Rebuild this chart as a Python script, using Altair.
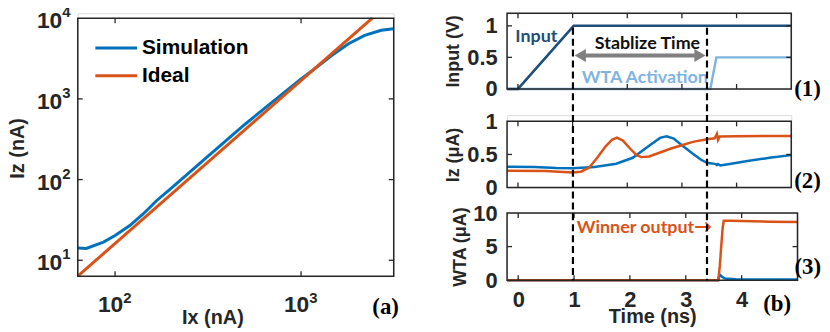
import altair as alt
import pandas as pd

# ---------------- data ----------------
# (a) log-log transfer curve
sim_ix = [63, 70, 86.6, 100, 120, 141.6, 167, 200, 300, 500, 700, 1000, 1170, 1466, 1800, 2200, 2700, 3150]
sim_iz = [14.2, 14.0, 16.8, 20.3, 26.9, 37.5, 54.7, 77.6, 176, 485, 914, 1764, 2310, 3475, 4830, 6120, 7070, 7400]
ideal_ix = [63, 2416]
ideal_iz = [6.357, 10000]
lx_ticks = [100, 1000]
lx_exp = ["2", "3"]
ly_ticks = [10, 100, 1000, 10000]
ly_exp = ["1", "2", "3", "4"]

# (b)(1) input / WTA activation
in_t = [-0.2, 0.0, 1.02, 5.0]
in_v = [0, 0, 1, 1]
act_t = [-0.2, 3.52, 3.63, 5.0]
act_v = [0, 0, 0.5, 0.5]

# (b)(2) Iz of two cells
iz_b_t = [-0.2, 0.3, 0.7, 1.0, 1.4, 1.8, 2.1, 2.4, 2.6, 2.72, 2.85, 3.0, 3.2, 3.35, 3.46, 3.55, 3.62, 3.64, 3.66, 3.7, 3.9, 4.2, 4.6, 5.0]
iz_b_v = [0.315, 0.31, 0.295, 0.29, 0.31, 0.36, 0.45, 0.63, 0.75, 0.775, 0.74, 0.64, 0.51, 0.42, 0.375, 0.365, 0.355, 0.34, 0.355, 0.335, 0.36, 0.40, 0.45, 0.49]
iz_o_t = [-0.2, 0.5, 1.0, 1.15, 1.3, 1.45, 1.6, 1.72, 1.81, 1.92, 2.05, 2.17, 2.26, 2.4, 2.6, 2.8, 3.0, 3.2, 3.46, 3.6, 3.64, 3.66, 3.69, 4.0, 4.5, 5.0]
iz_o_v = [0.255, 0.25, 0.228, 0.24, 0.3, 0.45, 0.62, 0.72, 0.755, 0.71, 0.59, 0.49, 0.46, 0.47, 0.53, 0.59, 0.64, 0.69, 0.73, 0.745, 0.81, 0.72, 0.77, 0.775, 0.78, 0.78]

# (b)(3) WTA outputs
wta_o_t = [-0.2, 3.58, 3.595, 3.61, 3.63, 3.66, 3.68, 3.8, 4.5, 5.0]
wta_o_v = [0, 0, 1.0, 2.2, 4.5, 7.8, 8.85, 8.85, 8.72, 8.65]
wta_b_t = [-0.2, 3.58, 3.61, 3.65, 3.7, 3.9, 5.0]
wta_b_v = [0, 0, 0.8, 0.5, 0.25, 0.12, 0.1]

t_ticks = [0, 1, 2, 3, 4]
dash_t = [0.98, 3.38]

# ---------------- style ----------------
BLUE = "#0072BD"
ORANGE = "#D95319"
NAVY = "#1F4E79"
LIGHT = "#80B4E0"
GRAY = "#808080"
INK = "#262626"
SANS = "Liberation Sans"
SERIF = "Liberation Serif"
ANNO = "Lato"
TL = 5  # inward tick length
ONE = pd.DataFrame({"k": [0]})


def frame(W, H, top=0):
    return alt.Chart(ONE).mark_rect(filled=False, stroke=INK, strokeWidth=1.5).encode(
        x=alt.value(0), x2=alt.value(W), y=alt.value(top), y2=alt.value(H))


# ---------------- (a) ----------------
WL, HL, TOPL = 318.4, 265, 5
lxs = alt.Scale(type="log", domain=[63, 3150], nice=False)
lys = alt.Scale(type="log", domain=[6.357, 11523], nice=False)
ax_lx = alt.Axis(labels=False, ticks=False, domain=False, grid=False, title="Ix (nA)",
                 titleFont=SANS, titleFontSize=20, titleFontWeight="bold", titleColor=INK,
                 titleX=135.7, titleY=42, titleAlign="center", titleBaseline="middle")
ax_ly = alt.Axis(labels=False, ticks=False, domain=False, grid=False, title="Iz (nA)",
                 titleFont=SANS, titleFontSize=20, titleFontWeight="bold", titleColor=INK,
                 titleAngle=270, titleX=-60.6, titleY=135.7, titleAlign="center", titleBaseline="middle")
LX = alt.X("ix:Q", scale=lxs, axis=ax_lx)
LY = alt.Y("iz:Q", scale=lys, axis=ax_ly)

sim_df = pd.DataFrame({"ix": sim_ix, "iz": sim_iz})
ideal_df = pd.DataFrame({"ix": ideal_ix, "iz": ideal_iz})
lxt_df = pd.DataFrame({"ix": lx_ticks, "exp": lx_exp})
lyt_df = pd.DataFrame({"iz": ly_ticks, "exp": ly_exp})

# invisible anchor fixing the top-left corner of the drawing
anchor = alt.Chart(ONE).mark_rule(color="white", strokeWidth=1).encode(
    x=alt.value(-80), x2=alt.value(-78), y=alt.value(-20))

a_sim = alt.Chart(sim_df).mark_line(color=BLUE, strokeWidth=3).encode(x=LX, y=LY)
a_ideal = alt.Chart(ideal_df).mark_line(color=ORANGE, strokeWidth=3).encode(x=LX, y=LY)
a_xt_top = alt.Chart(lxt_df).mark_rule(color=INK, strokeWidth=1.3).encode(x=LX, y=alt.value(TOPL), y2=alt.value(TOPL + TL))
a_xt_bot = alt.Chart(lxt_df).mark_rule(color=INK, strokeWidth=1.3).encode(x=LX, y=alt.value(HL - TL), y2=alt.value(HL))
a_yt_l = alt.Chart(lyt_df[lyt_df.iz < 10000]).mark_rule(color=INK, strokeWidth=1.3).encode(y=LY, x=alt.value(0), x2=alt.value(TL))
a_yt_r = alt.Chart(lyt_df[lyt_df.iz < 10000]).mark_rule(color=INK, strokeWidth=1.3).encode(y=LY, x=alt.value(WL - TL), x2=alt.value(WL))
a_xl_base = alt.Chart(lxt_df).mark_text(text="10", font=SANS, fontSize=23, fontWeight="bold", color=INK,
                                       align="right", baseline="middle", dx=8.3, dy=29).encode(x=LX, y=alt.value(HL))
a_xl_exp = alt.Chart(lxt_df).mark_text(font=SANS, fontSize=15, fontWeight="bold", color=INK,
                                      align="left", baseline="middle", dx=8.3, dy=22).encode(x=LX, y=alt.value(HL), text="exp:N")
a_yl_base = alt.Chart(lyt_df).mark_text(text="10", font=SANS, fontSize=23, fontWeight="bold", color=INK,
                                       align="right", baseline="middle", dx=-15.6, dy=3).encode(y=LY, x=alt.value(0))
a_yl_exp = alt.Chart(lyt_df).mark_text(font=SANS, fontSize=15, fontWeight="bold", color=INK,
                                      align="left", baseline="middle", dx=-15.6, dy=-6).encode(y=LY, x=alt.value(0), text="exp:N")

leg_df = pd.DataFrame({"name": ["Simulation", "Ideal"], "col": [BLUE, ORANGE], "ly": [35, 63]})
a_leg_line = alt.Chart(leg_df).mark_rule(strokeWidth=3).encode(
    x=alt.value(17.7), x2=alt.value(59.7), y=alt.Y("ly:Q", scale=None), color=alt.Color("col:N", scale=None))
a_leg_text = alt.Chart(leg_df).mark_text(font=SANS, fontSize=21, fontWeight="bold", color="black",
                                        align="left", baseline="middle").encode(
    x=alt.value(64.7), y=alt.Y("ly:Q", scale=None), text="name:N")
a_tag = alt.Chart(pd.DataFrame({"s": ["(a)"]})).mark_text(font=SERIF, fontSize=23, fontWeight="bold", color="black",
                                                         align="center", baseline="middle").encode(
    x=alt.value(310.2), y=alt.value(HL + 30.7), text="s:N")

left = alt.layer(anchor, a_sim, a_ideal, frame(WL, HL, TOPL), a_xt_top, a_xt_bot, a_yt_l, a_yt_r,
                 a_xl_base, a_xl_exp, a_yl_base, a_yl_exp, a_leg_line, a_leg_text, a_tag
                 ).properties(width=WL, height=HL)

# ---------------- (b) ----------------
W1, H1 = 286.4, 76.3
W2, H2, TOP2 = 286.4, 73.0, 6.3
W3, H3 = 292.7, 67.6
ts = alt.Scale(domain=[-0.2, 5], nice=False)


def yaxis(title, vals, tx, ty, fmt):
    return alt.Axis(values=vals, format=fmt, labelFont=SANS, labelFontSize=22, labelFontWeight="bold",
                    labelColor=INK, labelPadding=10, ticks=False, domain=False, grid=False,
                    title=title, titleFont=SANS, titleFontSize=18, titleFontWeight="bold", titleColor=INK,
                    titleAngle=270, titleX=tx, titleY=ty, titleAlign="center", titleBaseline="middle")


def frame_ticks(X, Y, W, H, yt, top=0):
    tdf = pd.DataFrame({"t": t_ticks})
    vdf = pd.DataFrame({"v": yt})
    return [
        frame(W, H, top),
        alt.Chart(tdf).mark_rule(color=INK, strokeWidth=1.3).encode(x=X, y=alt.value(top), y2=alt.value(top + TL)),
        alt.Chart(tdf).mark_rule(color=INK, strokeWidth=1.3).encode(x=X, y=alt.value(H - TL), y2=alt.value(H)),
        alt.Chart(vdf).mark_rule(color=INK, strokeWidth=1.3).encode(y=Y, x=alt.value(0), x2=alt.value(TL)),
        alt.Chart(vdf).mark_rule(color=INK, strokeWidth=1.3).encode(y=Y, x=alt.value(W - TL), x2=alt.value(W)),
    ]


def tag(s, x, y, align="left"):
    return alt.Chart(pd.DataFrame({"s": [s]})).mark_text(font=SERIF, fontSize=23, fontWeight="bold", color="black",
                                                        align=align, baseline="middle").encode(
        x=alt.value(x), y=alt.value(y), text="s:N")


# panel 1
X1 = alt.X("t:Q", scale=ts, axis=None)
Y1 = alt.Y("v:Q", scale=alt.Scale(domain=[0, 1.2], nice=False),
           axis=yaxis("Input (V)", [0, 0.5, 1], -54.3, 38, "~g"))
p1_act = alt.Chart(pd.DataFrame({"t": act_t, "v": act_v})).mark_line(color=LIGHT, strokeWidth=2.5).encode(x=X1, y=Y1)
p1_in = alt.Chart(pd.DataFrame({"t": in_t, "v": in_v})).mark_line(color=NAVY, strokeWidth=2.5).encode(x=X1, y=Y1)
txt1 = pd.DataFrame({"t": [0.336, 2.37, 2.32], "v": [0.82, 0.71, 0.18],
                     "s": ["Input", "Stablize Time", "WTA Activation"], "c": [NAVY, "#111111", LIGHT]})
p1_txt = alt.Chart(txt1).mark_text(font=ANNO, fontSize=18, fontWeight="bold", align="center", baseline="middle").encode(
    x=X1, y=Y1, text="s:N", color=alt.Color("c:N", scale=None))
arrow_df = pd.DataFrame({"t": [1.14, 3.33], "v": [0.53, 0.53], "shape": ["triangle-left", "triangle-right"]})
p1_shaft = alt.Chart(arrow_df).mark_line(color=GRAY, strokeWidth=4).encode(x=X1, y=Y1)
p1_heads = alt.Chart(arrow_df).mark_point(filled=True, color=GRAY, opacity=1, size=170).encode(
    x=X1, y=Y1, shape=alt.Shape("shape:N", scale=None))
p1 = alt.layer(p1_act, p1_in, p1_shaft, p1_heads, p1_txt, *frame_ticks(X1, Y1, W1, H1, [0.5, 1]),
               tag("(1)", W1 + 3, H1)).properties(width=W1, height=H1)

# panel 2
X2 = alt.X("t:Q", scale=ts, axis=None)
Y2 = alt.Y("v:Q", scale=alt.Scale(domain=[0, 1.0945], nice=False),
           axis=yaxis("Iz (μA)", [0, 0.5, 1], -54.3, 39.7, "~g"))
p2_b = alt.Chart(pd.DataFrame({"t": iz_b_t, "v": iz_b_v})).mark_line(color=BLUE, strokeWidth=2.5).encode(x=X2, y=Y2)
p2_o = alt.Chart(pd.DataFrame({"t": iz_o_t, "v": iz_o_v})).mark_line(color=ORANGE, strokeWidth=2.5).encode(x=X2, y=Y2)
p2 = alt.layer(p2_b, p2_o, *frame_ticks(X2, Y2, W2, H2, [0.5], TOP2),
               tag("(2)", W2 + 3, H2 - 7)).properties(width=W2, height=H2)

# panel 3
X3 = alt.X("t:Q", scale=ts, axis=alt.Axis(values=t_ticks, labelFont=SANS, labelFontSize=22, labelFontWeight="bold",
                                          labelColor=INK, labelPadding=10, ticks=False, domain=False, grid=False,
                                          title="Time (ns)", titleFont=SANS, titleFontSize=20, titleFontWeight="bold",
                                          titleColor=INK, titleX=146.35, titleY=37, titleAlign="center",
                                          titleBaseline="middle"))
Y3 = alt.Y("v:Q", scale=alt.Scale(domain=[0, 10], nice=False),
           axis=yaxis("WTA (μA)", [0, 5, 10], -47.3, 33.8, "d"))
p3_b = alt.Chart(pd.DataFrame({"t": wta_b_t, "v": wta_b_v})).mark_line(color=BLUE, strokeWidth=2.5).encode(x=X3, y=Y3)
p3_o = alt.Chart(pd.DataFrame({"t": wta_o_t, "v": wta_o_v})).mark_line(color=ORANGE, strokeWidth=2.5).encode(x=X3, y=Y3)
p3_txt = alt.Chart(pd.DataFrame({"t": [2.26], "v": [7.74], "s": ["Winner output→"]})).mark_text(
    font=ANNO, fontSize=18, fontWeight="bold", color=ORANGE, align="center", baseline="middle").encode(x=X3, y=Y3, text="s:N")
p3_dash = alt.Chart(pd.DataFrame({"t": dash_t})).mark_rule(color="black", strokeWidth=2.2, strokeDash=[7, 4]).encode(
    x=X3, y=alt.value(-186.7), y2=alt.value(H3))
p3 = alt.layer(p3_b, p3_o, p3_txt, *frame_ticks(X3, Y3, W3, H3, [5]), p3_dash,
               tag("(3)", W3 - 3, H3 - 13.3), tag("(b)", 272.2, H3 + 24, "center")).properties(width=W3, height=H3)

right_col = alt.vconcat(p1, p2, p3, spacing=25.7, bounds="flush")
chart = alt.hconcat(left, right_col, spacing=113.6, bounds="flush").properties(
    padding={"left": -10.7, "top": -17, "right": 0, "bottom": 0}
).configure_view(strokeWidth=0, stroke="transparent").configure(font=SANS)

chart.save("out.html", embed_options={"renderer": "svg", "actions": False})
